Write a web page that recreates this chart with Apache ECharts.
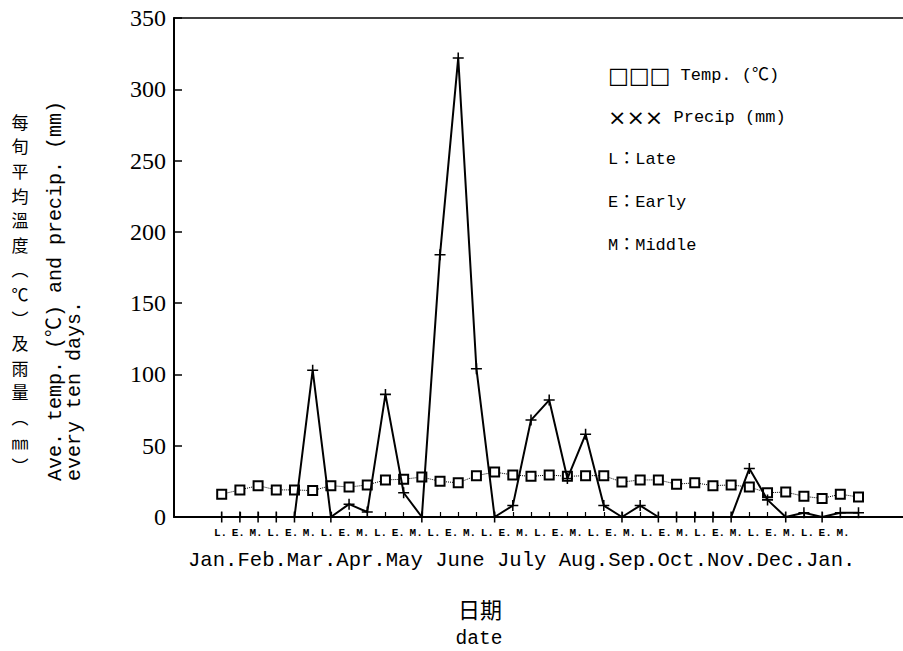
<!DOCTYPE html>
<html>
<head>
<meta charset="utf-8">
<script src="https://cdn.jsdelivr.net/npm/echarts@6/dist/echarts.min.js"></script>
<style>
html,body{margin:0;padding:0;background:#fff;}
#chart{width:903px;height:651px;}
</style>
</head>
<body>
<div id="chart"></div>
<script>
// ---- data (ten-day periods, late Jan to middle Jan of next year) ----
const periodNames = ['Jan L','Feb E','Feb M','Feb L','Mar E','Mar M','Mar L','Apr E','Apr M','Apr L',
  'May E','May M','May L','Jun E','Jun M','Jun L','Jul E','Jul M','Jul L','Aug E','Aug M','Aug L',
  'Sep E','Sep M','Sep L','Oct E','Oct M','Oct L','Nov E','Nov M','Nov L','Dec E','Dec M','Dec L','Jan E','Jan M'];
const periodTickLabels = ['L.','E.','M.','L.','E.','M.','L.','E.','M.','L.','E.','M.','L.','E.','M.','L.',
  'E.','M.','L.','E.','M.','L.','E.','M.','L.','E.','M.','L.','E.','M.','L.','E.','M.','L.','E.','M.'];
const monthLabels = ['Jan.','Feb.','Mar.','Apr.','May ','June ','July ','Aug.','Sep.','Oct.','Nov.','Dec.','Jan.'];
const tempValues = [16,19,22,19,19,18.5,22,21,22.5,26,26.5,28,25,24,29,31.5,29.5,28.5,29.5,28.5,29,29,
  24.5,26,26,23,24,22,22.5,21,17,17.5,14.5,13,16,14];
const precipValues = [0,0,0,0,0,103,0,9,3.5,86,17,0,184,322,104,0,8,68,82,27,58,8,
  0,8,0,0,0,0,0,34,12,0,3,0,3,3];
const yTicks = {min:0, max:350, interval:50};
const legendLines = ['□□□ Temp. (℃)','××× Precip (mm)','L：Late','E：Early','M：Middle'];
const yTitleZh = ['每','旬','平','均','溫','度','︵','℃','︶','及','雨','量','︵','㎜','︶'];
const yTitleEn = ['Ave. temp. (℃) and precip. (mm)','every ten days.'];
const xTitleZh = '日期';
const xTitleEn = 'date';

const chart = echarts.init(document.getElementById('chart'), null, {renderer:'svg'});
const mono = '"Liberation Mono","Noto Sans CJK TC"';
const TOP = 18, BOTTOM = 134;

const legendGraphics = legendLines.map((t, i) => {
  const m = t.match(/^(□□□|×××)(.*)$/);
  const ys = [75, 117, 159, 202, 245];
  return {
    type:'text', x:608, y:ys[i],
    style:{
      text: m ? '{s|' + m[1] + '}' + m[2] : t,
      fill:'#000', fontFamily:mono, fontSize:17,
      textAlign:'left', textVerticalAlign:'middle',
      rich:{ s:{ fontFamily:'"DejaVu Sans"', fontSize: 22, fill:'#000', color:'#000'} }
    }
  };
});

const option = {
  backgroundColor:'#fff',
  animation:false,
  grid:[
    {left:174, right:0, top:TOP, bottom:BOTTOM},          // frame + y axis
    {left:221.7, right:44.5, top:TOP, bottom:BOTTOM},     // data positions
    {left:220.5, right:60, top:TOP, bottom:BOTTOM}        // period labels
  ],
  xAxis:[
    {gridIndex:0, type:'value', min:0, max:1, position:'bottom',
      axisLine:{show:true, onZero:false, lineStyle:{color:'#000', width:2}},
      axisTick:{show:false}, axisLabel:{show:false}, splitLine:{show:false}},
    {gridIndex:0, type:'value', min:0, max:1, position:'top',
      axisLine:{show:true, onZero:false, lineStyle:{color:'#000', width:1.5}},
      axisTick:{show:false}, axisLabel:{show:false}, splitLine:{show:false}},
    {gridIndex:1, type:'category', data:periodNames, boundaryGap:false,
      axisLine:{show:false, onZero:false},
      axisTick:{show:true, inside:true, length:5, interval:0, lineStyle:{color:'#000', width:1.2}},
      axisLabel:{show:false}, splitLine:{show:false}},
    {gridIndex:2, type:'category', data:periodNames, boundaryGap:false,
      axisLine:{show:false, onZero:false}, axisTick:{show:false},
      axisLabel:{show:true, interval:0, margin:10, color:'#000', fontFamily:'"Liberation Mono"', fontSize:11, fontWeight:'bold',
        formatter:(v, i) => periodTickLabels[i]},
      splitLine:{show:false}}
  ],
  yAxis:[
    {gridIndex:0, type:'value', min:yTicks.min, max:yTicks.max, interval:yTicks.interval,
      axisLine:{show:true, lineStyle:{color:'#000', width:2}},
      axisTick:{show:true, inside:true, length:8, lineStyle:{color:'#000', width:1.5}},
      axisLabel:{show:true, margin:8, color:'#000', fontFamily:'"Liberation Serif"', fontSize:24},
      splitLine:{show:false}},
    {gridIndex:1, type:'value', min:yTicks.min, max:yTicks.max, show:false, splitLine:{show:false}},
    {gridIndex:2, type:'value', min:yTicks.min, max:yTicks.max, show:false, splitLine:{show:false}}
  ],
  series:[
    {name:'Temp. (℃)', type:'line', xAxisIndex:2, yAxisIndex:1, data:tempValues, clip:false,
      symbol:'emptyRect', symbolSize:9, showAllSymbol:true,
      lineStyle:{color:'#000', width:1, type:'dotted'},
      itemStyle:{color:'#000', borderColor:'#000', borderWidth:1.3}, z:3},
    {name:'Precip (mm)', type:'line', xAxisIndex:2, yAxisIndex:1, data:precipValues, clip:false,
      symbol:'path://M4.3,0H5.7V4.3H10V5.7H5.7V10H4.3V5.7H0V4.3H4.3Z', symbolSize:11, showAllSymbol:true,
      lineStyle:{color:'#000', width:2},
      itemStyle:{color:'#000'}, z:4}
  ],
  graphic:{elements:[
    {type:'text', x:188, y:560,
      style:{text:monthLabels.join(''), fill:'#000', fontFamily:'"Liberation Mono"', fontSize:20.6,
        textAlign:'left', textVerticalAlign:'middle'}},
    {type:'text', x:480, y:608,
      style:{text:xTitleZh, fill:'#000', fontFamily:'"Noto Sans CJK TC"', fontSize:22,
        textAlign:'center', textVerticalAlign:'middle'}},
    {type:'text', x:479, y:639,
      style:{text:xTitleEn, fill:'#000', fontFamily:'"Liberation Mono"', fontSize:19.5,
        textAlign:'center', textVerticalAlign:'middle'}},
    {type:'text', x:20, y:109,
      style:{text:yTitleZh.join('\n'), fill:'#000', fontFamily:'"Noto Sans CJK TC"', fontSize:17, lineHeight:24.6,
        textAlign:'center', textVerticalAlign:'top'}},
    {type:'text', x:65, y:481, rotation:Math.PI/2,
      style:{text:yTitleEn.join('\n'), fill:'#000', fontFamily:mono, fontSize:20, lineHeight:19,
        textAlign:'left', textVerticalAlign:'middle'}}
  ].concat(legendGraphics)}
};
chart.setOption(option);
</script>
</body>
</html>
